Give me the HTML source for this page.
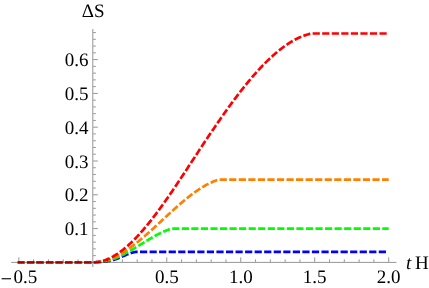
<!DOCTYPE html>
<html><head><meta charset="utf-8"><title>Plot</title>
<style>
html,body{margin:0;padding:0;background:#fff;}
body{width:429px;height:288px;overflow:hidden;}
svg{display:block;will-change:transform;}
text{font-family:"Liberation Serif",serif;font-size:19px;fill:#000;text-rendering:geometricPrecision;}
</style></head><body>
<svg width="429" height="288" viewBox="0 0 429 288">
<rect width="429" height="288" fill="#ffffff"/>
<path d="M17.80,262.40 L92.85,262.40 L92.85,262.40 L93.35,262.37 L93.85,262.33 L94.35,262.30 L94.85,262.27 L95.35,262.24 L95.85,262.21 L96.35,262.18 L96.85,262.15 L97.35,262.12 L97.85,262.09 L98.35,262.05 L98.85,262.02 L99.35,261.99 L99.85,261.95 L100.35,261.91 L100.85,261.88 L101.35,261.84 L101.85,261.79 L102.35,261.75 L102.85,261.70 L103.35,261.66 L103.85,261.61 L104.35,261.55 L104.85,261.50 L105.35,261.44 L105.85,261.37 L106.35,261.31 L106.85,261.24 L107.35,261.16 L107.85,261.09 L108.35,261.00 L108.85,260.92 L109.35,260.83 L109.85,260.73 L110.35,260.63 L110.85,260.53 L111.35,260.42 L111.85,260.30 L112.35,260.18 L112.85,260.06 L113.35,259.92 L113.85,259.79 L114.35,259.64 L114.85,259.49 L115.35,259.33 L115.85,259.17 L116.35,259.00 L116.85,258.82 L117.35,258.64 L117.85,258.45 L118.35,258.25 L118.85,258.05 L119.35,257.85 L119.85,257.64 L120.35,257.43 L120.85,257.21 L121.35,256.99 L121.85,256.77 L122.35,256.55 L122.85,256.33 L123.35,256.11 L123.85,255.89 L124.35,255.67 L124.85,255.45 L125.35,255.23 L125.85,255.01 L126.35,254.80 L126.85,254.59 L127.35,254.38 L127.85,254.18 L128.35,253.98 L128.85,253.79 L129.35,253.60 L129.85,253.42 L130.35,253.25 L130.85,253.08 L131.35,252.92 L131.85,252.77 L132.35,252.63 L132.85,252.50 L133.35,252.38 L133.85,252.27 L134.35,252.16 L134.85,252.07 L135.35,252.00 L135.85,251.93 L136.35,251.88 L136.85,251.84 L137.35,251.81 L137.85,251.80 L138.00,251.80 L388.20,251.80" fill="none" stroke="#0000ff" stroke-width="2.7" stroke-dasharray="7.2 2.35" stroke-dashoffset="0.3" stroke-linecap="butt" stroke-linejoin="round"/>
<path d="M17.80,262.40 L92.85,262.40 L92.85,262.40 L93.35,262.39 L93.85,262.38 L94.35,262.37 L94.85,262.35 L95.35,262.33 L95.85,262.31 L96.35,262.28 L96.85,262.25 L97.35,262.22 L97.85,262.18 L98.35,262.14 L98.85,262.09 L99.35,262.05 L99.85,261.99 L100.35,261.94 L100.85,261.88 L101.35,261.81 L101.85,261.74 L102.35,261.67 L102.85,261.60 L103.35,261.52 L103.85,261.43 L104.35,261.34 L104.85,261.25 L105.35,261.15 L105.85,261.05 L106.35,260.94 L106.85,260.83 L107.35,260.72 L107.85,260.60 L108.35,260.47 L108.85,260.34 L109.35,260.21 L109.85,260.07 L110.35,259.93 L110.85,259.78 L111.35,259.62 L111.85,259.47 L112.35,259.30 L112.85,259.13 L113.35,258.96 L113.85,258.78 L114.35,258.59 L114.85,258.40 L115.35,258.21 L115.85,258.01 L116.35,257.80 L116.85,257.59 L117.35,257.37 L117.85,257.15 L118.35,256.92 L118.85,256.69 L119.35,256.46 L119.85,256.22 L120.35,255.97 L120.85,255.73 L121.35,255.47 L121.85,255.22 L122.35,254.96 L122.85,254.70 L123.35,254.44 L123.85,254.18 L124.35,253.91 L124.85,253.64 L125.35,253.37 L125.85,253.10 L126.35,252.83 L126.85,252.56 L127.35,252.28 L127.85,252.00 L128.35,251.72 L128.85,251.44 L129.35,251.16 L129.85,250.88 L130.35,250.59 L130.85,250.31 L131.35,250.02 L131.85,249.73 L132.35,249.45 L132.85,249.16 L133.35,248.87 L133.85,248.58 L134.35,248.28 L134.85,247.99 L135.35,247.70 L135.85,247.40 L136.35,247.11 L136.85,246.81 L137.35,246.52 L137.85,246.22 L138.35,245.92 L138.85,245.62 L139.35,245.32 L139.85,245.02 L140.35,244.71 L140.85,244.41 L141.35,244.11 L141.85,243.80 L142.35,243.49 L142.85,243.19 L143.35,242.88 L143.85,242.57 L144.35,242.26 L144.85,241.95 L145.35,241.64 L145.85,241.34 L146.35,241.03 L146.85,240.72 L147.35,240.41 L147.85,240.11 L148.35,239.80 L148.85,239.50 L149.35,239.20 L149.85,238.90 L150.35,238.60 L150.85,238.30 L151.35,238.01 L151.85,237.72 L152.35,237.43 L152.85,237.14 L153.35,236.85 L153.85,236.57 L154.35,236.29 L154.85,236.01 L155.35,235.74 L155.85,235.46 L156.35,235.20 L156.85,234.93 L157.35,234.67 L157.85,234.41 L158.35,234.15 L158.85,233.90 L159.35,233.66 L159.85,233.41 L160.35,233.17 L160.85,232.93 L161.35,232.70 L161.85,232.47 L162.35,232.24 L162.85,232.02 L163.35,231.80 L163.85,231.58 L164.35,231.36 L164.85,231.15 L165.35,230.94 L165.85,230.74 L166.35,230.53 L166.85,230.33 L167.35,230.13 L167.85,229.94 L168.35,229.75 L168.85,229.56 L169.35,229.37 L169.85,229.19 L170.35,229.00 L170.85,228.82 L171.20,228.70 L388.70,228.70" fill="none" stroke="#00ff00" stroke-width="2.7" stroke-dasharray="7.2 2.35" stroke-dashoffset="0" stroke-linecap="butt" stroke-linejoin="round"/>
<path d="M17.80,262.40 L92.85,262.40 L92.85,262.40 L93.35,262.41 L93.85,262.42 L94.35,262.42 L94.85,262.41 L95.35,262.39 L95.85,262.37 L96.35,262.34 L96.85,262.31 L97.35,262.27 L97.85,262.22 L98.35,262.16 L98.85,262.10 L99.35,262.04 L99.85,261.96 L100.35,261.88 L100.85,261.80 L101.35,261.71 L101.85,261.61 L102.35,261.51 L102.85,261.40 L103.35,261.28 L103.85,261.16 L104.35,261.03 L104.85,260.90 L105.35,260.76 L105.85,260.62 L106.35,260.47 L106.85,260.31 L107.35,260.15 L107.85,259.98 L108.35,259.81 L108.85,259.63 L109.35,259.45 L109.85,259.26 L110.35,259.07 L110.85,258.87 L111.35,258.67 L111.85,258.46 L112.35,258.25 L112.85,258.03 L113.35,257.80 L113.85,257.58 L114.35,257.34 L114.85,257.10 L115.35,256.86 L115.85,256.61 L116.35,256.36 L116.85,256.11 L117.35,255.85 L117.85,255.58 L118.35,255.31 L118.85,255.04 L119.35,254.76 L119.85,254.47 L120.35,254.19 L120.85,253.90 L121.35,253.60 L121.85,253.30 L122.35,253.00 L122.85,252.69 L123.35,252.38 L123.85,252.06 L124.35,251.74 L124.85,251.42 L125.35,251.10 L125.85,250.77 L126.35,250.43 L126.85,250.09 L127.35,249.75 L127.85,249.41 L128.35,249.06 L128.85,248.71 L129.35,248.36 L129.85,248.00 L130.35,247.64 L130.85,247.27 L131.35,246.91 L131.85,246.53 L132.35,246.16 L132.85,245.78 L133.35,245.41 L133.85,245.02 L134.35,244.64 L134.85,244.25 L135.35,243.86 L135.85,243.47 L136.35,243.07 L136.85,242.67 L137.35,242.27 L137.85,241.87 L138.35,241.46 L138.85,241.05 L139.35,240.64 L139.85,240.23 L140.35,239.81 L140.85,239.40 L141.35,238.98 L141.85,238.56 L142.35,238.13 L142.85,237.71 L143.35,237.28 L143.85,236.85 L144.35,236.42 L144.85,235.99 L145.35,235.55 L145.85,235.11 L146.35,234.68 L146.85,234.24 L147.35,233.80 L147.85,233.35 L148.35,232.91 L148.85,232.46 L149.35,232.02 L149.85,231.57 L150.35,231.12 L150.85,230.67 L151.35,230.22 L151.85,229.76 L152.35,229.31 L152.85,228.86 L153.35,228.40 L153.85,227.94 L154.35,227.49 L154.85,227.03 L155.35,226.57 L155.85,226.11 L156.35,225.65 L156.85,225.19 L157.35,224.73 L157.85,224.26 L158.35,223.80 L158.85,223.34 L159.35,222.88 L159.85,222.41 L160.35,221.95 L160.85,221.48 L161.35,221.02 L161.85,220.56 L162.35,220.09 L162.85,219.63 L163.35,219.16 L163.85,218.70 L164.35,218.24 L164.85,217.77 L165.35,217.31 L165.85,216.85 L166.35,216.38 L166.85,215.92 L167.35,215.46 L167.85,215.00 L168.35,214.54 L168.85,214.08 L169.35,213.62 L169.85,213.16 L170.35,212.70 L170.85,212.24 L171.35,211.79 L171.85,211.33 L172.35,210.87 L172.85,210.42 L173.35,209.97 L173.85,209.52 L174.35,209.07 L174.85,208.62 L175.35,208.17 L175.85,207.72 L176.35,207.28 L176.85,206.83 L177.35,206.39 L177.85,205.95 L178.35,205.51 L178.85,205.07 L179.35,204.64 L179.85,204.20 L180.35,203.77 L180.85,203.34 L181.35,202.91 L181.85,202.48 L182.35,202.06 L182.85,201.63 L183.35,201.21 L183.85,200.79 L184.35,200.38 L184.85,199.96 L185.35,199.55 L185.85,199.14 L186.35,198.73 L186.85,198.33 L187.35,197.92 L187.85,197.52 L188.35,197.12 L188.85,196.73 L189.35,196.34 L189.85,195.95 L190.35,195.56 L190.85,195.17 L191.35,194.79 L191.85,194.41 L192.35,194.04 L192.85,193.66 L193.35,193.29 L193.85,192.93 L194.35,192.56 L194.85,192.20 L195.35,191.84 L195.85,191.49 L196.35,191.14 L196.85,190.79 L197.35,190.45 L197.85,190.11 L198.35,189.77 L198.85,189.44 L199.35,189.11 L199.85,188.78 L200.35,188.46 L200.85,188.14 L201.35,187.83 L201.85,187.52 L202.35,187.21 L202.85,186.91 L203.35,186.61 L203.85,186.31 L204.35,186.02 L204.85,185.74 L205.35,185.45 L205.85,185.18 L206.35,184.90 L206.85,184.63 L207.35,184.37 L207.85,184.11 L208.35,183.85 L208.85,183.60 L209.35,183.36 L209.85,183.11 L210.35,182.88 L210.85,182.64 L211.35,182.42 L211.85,182.19 L212.35,181.98 L212.85,181.76 L213.35,181.56 L213.85,181.35 L214.35,181.16 L214.85,180.96 L215.35,180.78 L215.85,180.59 L216.35,180.42 L216.85,180.25 L217.35,180.08 L217.85,179.92 L218.35,179.77 L218.85,179.62 L218.90,179.60 L388.70,179.60" fill="none" stroke="#ff8000" stroke-width="2.7" stroke-dasharray="7.2 2.35" stroke-dashoffset="0" stroke-linecap="butt" stroke-linejoin="round"/>
<path d="M17.80,262.40 L92.85,262.40 L92.85,262.41 L93.35,262.40 L93.85,262.39 L94.35,262.37 L94.85,262.34 L95.35,262.31 L95.85,262.26 L96.35,262.21 L96.85,262.15 L97.35,262.09 L97.85,262.01 L98.35,261.93 L98.85,261.85 L99.35,261.75 L99.85,261.65 L100.35,261.54 L100.85,261.42 L101.35,261.30 L101.85,261.17 L102.35,261.03 L102.85,260.89 L103.35,260.74 L103.85,260.58 L104.35,260.42 L104.85,260.24 L105.35,260.07 L105.85,259.88 L106.35,259.69 L106.85,259.49 L107.35,259.28 L107.85,259.07 L108.35,258.85 L108.85,258.63 L109.35,258.40 L109.85,258.16 L110.35,257.92 L110.85,257.67 L111.35,257.41 L111.85,257.15 L112.35,256.88 L112.85,256.60 L113.35,256.32 L113.85,256.03 L114.35,255.74 L114.85,255.44 L115.35,255.13 L115.85,254.82 L116.35,254.50 L116.85,254.18 L117.35,253.85 L117.85,253.52 L118.35,253.18 L118.85,252.83 L119.35,252.48 L119.85,252.12 L120.35,251.76 L120.85,251.39 L121.35,251.01 L121.85,250.63 L122.35,250.25 L122.85,249.86 L123.35,249.46 L123.85,249.06 L124.35,248.65 L124.85,248.24 L125.35,247.82 L125.85,247.40 L126.35,246.97 L126.85,246.54 L127.35,246.10 L127.85,245.66 L128.35,245.21 L128.85,244.76 L129.35,244.30 L129.85,243.84 L130.35,243.37 L130.85,242.90 L131.35,242.42 L131.85,241.94 L132.35,241.46 L132.85,240.97 L133.35,240.47 L133.85,239.97 L134.35,239.47 L134.85,238.96 L135.35,238.44 L135.85,237.93 L136.35,237.40 L136.85,236.88 L137.35,236.35 L137.85,235.81 L138.35,235.27 L138.85,234.73 L139.35,234.18 L139.85,233.63 L140.35,233.08 L140.85,232.52 L141.35,231.95 L141.85,231.39 L142.35,230.81 L142.85,230.24 L143.35,229.66 L143.85,229.08 L144.35,228.49 L144.85,227.90 L145.35,227.31 L145.85,226.71 L146.35,226.11 L146.85,225.51 L147.35,224.90 L147.85,224.29 L148.35,223.67 L148.85,223.05 L149.35,222.43 L149.85,221.81 L150.35,221.18 L150.85,220.55 L151.35,219.91 L151.85,219.28 L152.35,218.63 L152.85,217.99 L153.35,217.34 L153.85,216.69 L154.35,216.04 L154.85,215.39 L155.35,214.73 L155.85,214.07 L156.35,213.40 L156.85,212.73 L157.35,212.07 L157.85,211.39 L158.35,210.72 L158.85,210.04 L159.35,209.36 L159.85,208.68 L160.35,207.99 L160.85,207.30 L161.35,206.61 L161.85,205.92 L162.35,205.23 L162.85,204.53 L163.35,203.83 L163.85,203.13 L164.35,202.43 L164.85,201.72 L165.35,201.01 L165.85,200.30 L166.35,199.59 L166.85,198.88 L167.35,198.16 L167.85,197.44 L168.35,196.72 L168.85,196.00 L169.35,195.28 L169.85,194.55 L170.35,193.83 L170.85,193.10 L171.35,192.37 L171.85,191.64 L172.35,190.91 L172.85,190.17 L173.35,189.43 L173.85,188.70 L174.35,187.96 L174.85,187.22 L175.35,186.48 L175.85,185.73 L176.35,184.99 L176.85,184.24 L177.35,183.50 L177.85,182.75 L178.35,182.00 L178.85,181.25 L179.35,180.50 L179.85,179.75 L180.35,179.00 L180.85,178.24 L181.35,177.49 L181.85,176.73 L182.35,175.98 L182.85,175.22 L183.35,174.46 L183.85,173.71 L184.35,172.95 L184.85,172.19 L185.35,171.43 L185.85,170.67 L186.35,169.91 L186.85,169.15 L187.35,168.39 L187.85,167.62 L188.35,166.86 L188.85,166.10 L189.35,165.34 L189.85,164.57 L190.35,163.81 L190.85,163.05 L191.35,162.29 L191.85,161.52 L192.35,160.76 L192.85,160.00 L193.35,159.23 L193.85,158.47 L194.35,157.71 L194.85,156.95 L195.35,156.18 L195.85,155.42 L196.35,154.66 L196.85,153.90 L197.35,153.14 L197.85,152.38 L198.35,151.62 L198.85,150.86 L199.35,150.10 L199.85,149.34 L200.35,148.58 L200.85,147.83 L201.35,147.07 L201.85,146.31 L202.35,145.56 L202.85,144.80 L203.35,144.05 L203.85,143.30 L204.35,142.54 L204.85,141.79 L205.35,141.04 L205.85,140.29 L206.35,139.54 L206.85,138.79 L207.35,138.05 L207.85,137.30 L208.35,136.55 L208.85,135.81 L209.35,135.06 L209.85,134.32 L210.35,133.58 L210.85,132.84 L211.35,132.10 L211.85,131.36 L212.35,130.62 L212.85,129.89 L213.35,129.15 L213.85,128.42 L214.35,127.68 L214.85,126.95 L215.35,126.22 L215.85,125.49 L216.35,124.76 L216.85,124.03 L217.35,123.31 L217.85,122.58 L218.35,121.86 L218.85,121.14 L219.35,120.42 L219.85,119.70 L220.35,118.98 L220.85,118.27 L221.35,117.55 L221.85,116.84 L222.35,116.13 L222.85,115.42 L223.35,114.71 L223.85,114.00 L224.35,113.30 L224.85,112.59 L225.35,111.89 L225.85,111.19 L226.35,110.49 L226.85,109.79 L227.35,109.10 L227.85,108.40 L228.35,107.71 L228.85,107.02 L229.35,106.33 L229.85,105.65 L230.35,104.96 L230.85,104.28 L231.35,103.60 L231.85,102.92 L232.35,102.24 L232.85,101.57 L233.35,100.89 L233.85,100.22 L234.35,99.55 L234.85,98.88 L235.35,98.22 L235.85,97.56 L236.35,96.89 L236.85,96.24 L237.35,95.58 L237.85,94.92 L238.35,94.27 L238.85,93.62 L239.35,92.97 L239.85,92.33 L240.35,91.68 L240.85,91.04 L241.35,90.40 L241.85,89.77 L242.35,89.13 L242.85,88.50 L243.35,87.87 L243.85,87.24 L244.35,86.62 L244.85,86.00 L245.35,85.38 L245.85,84.76 L246.35,84.15 L246.85,83.53 L247.35,82.92 L247.85,82.32 L248.35,81.71 L248.85,81.11 L249.35,80.51 L249.85,79.92 L250.35,79.32 L250.85,78.73 L251.35,78.14 L251.85,77.56 L252.35,76.97 L252.85,76.39 L253.35,75.82 L253.85,75.24 L254.35,74.67 L254.85,74.10 L255.35,73.54 L255.85,72.97 L256.35,72.41 L256.85,71.86 L257.35,71.30 L257.85,70.75 L258.35,70.20 L258.85,69.66 L259.35,69.12 L259.85,68.58 L260.35,68.04 L260.85,67.51 L261.35,66.98 L261.85,66.45 L262.35,65.93 L262.85,65.41 L263.35,64.89 L263.85,64.38 L264.35,63.87 L264.85,63.36 L265.35,62.86 L265.85,62.36 L266.35,61.86 L266.85,61.37 L267.35,60.88 L267.85,60.39 L268.35,59.91 L268.85,59.43 L269.35,58.95 L269.85,58.48 L270.35,58.01 L270.85,57.55 L271.35,57.08 L271.85,56.63 L272.35,56.17 L272.85,55.72 L273.35,55.27 L273.85,54.83 L274.35,54.39 L274.85,53.95 L275.35,53.52 L275.85,53.09 L276.35,52.67 L276.85,52.25 L277.35,51.83 L277.85,51.41 L278.35,51.00 L278.85,50.60 L279.35,50.20 L279.85,49.80 L280.35,49.40 L280.85,49.01 L281.35,48.63 L281.85,48.25 L282.35,47.87 L282.85,47.49 L283.35,47.12 L283.85,46.76 L284.35,46.40 L284.85,46.04 L285.35,45.69 L285.85,45.34 L286.35,44.99 L286.85,44.65 L287.35,44.31 L287.85,43.98 L288.35,43.65 L288.85,43.33 L289.35,43.01 L289.85,42.70 L290.35,42.39 L290.85,42.08 L291.35,41.78 L291.85,41.48 L292.35,41.19 L292.85,40.90 L293.35,40.62 L293.85,40.34 L294.35,40.06 L294.85,39.79 L295.35,39.53 L295.85,39.27 L296.35,39.01 L296.85,38.76 L297.35,38.51 L297.85,38.27 L298.35,38.03 L298.85,37.80 L299.35,37.57 L299.85,37.35 L300.35,37.13 L300.85,36.91 L301.35,36.70 L301.85,36.50 L302.35,36.30 L302.85,36.11 L303.35,35.92 L303.85,35.73 L304.35,35.55 L304.85,35.38 L305.35,35.21 L305.85,35.05 L306.35,34.89 L306.85,34.73 L307.35,34.58 L307.85,34.44 L308.35,34.30 L308.85,34.17 L309.35,34.04 L309.85,33.91 L310.35,33.80 L310.85,33.68 L311.35,33.58 L311.70,33.50 L388.70,33.50" fill="none" stroke="#ff0000" stroke-width="2.7" stroke-dasharray="7.2 2.35" stroke-dashoffset="0.6" stroke-linecap="butt" stroke-linejoin="round"/>
<g stroke="#000000" stroke-width="1" stroke-opacity="0.42" fill="none">
<line x1="11.2" y1="262.4" x2="396.4" y2="262.4"/>
<line x1="92.8" y1="29" x2="92.8" y2="267"/>
<line x1="18.83" y1="261.9" x2="18.83" y2="257.40"/>
<line x1="33.62" y1="261.9" x2="33.62" y2="259.40"/>
<line x1="48.41" y1="261.9" x2="48.41" y2="259.40"/>
<line x1="63.21" y1="261.9" x2="63.21" y2="259.40"/>
<line x1="78.00" y1="261.9" x2="78.00" y2="259.40"/>
<line x1="107.59" y1="261.9" x2="107.59" y2="259.40"/>
<line x1="122.39" y1="261.9" x2="122.39" y2="259.40"/>
<line x1="137.19" y1="261.9" x2="137.19" y2="259.40"/>
<line x1="151.98" y1="261.9" x2="151.98" y2="259.40"/>
<line x1="166.77" y1="261.9" x2="166.77" y2="257.40"/>
<line x1="181.57" y1="261.9" x2="181.57" y2="259.40"/>
<line x1="196.36" y1="261.9" x2="196.36" y2="259.40"/>
<line x1="211.16" y1="261.9" x2="211.16" y2="259.40"/>
<line x1="225.95" y1="261.9" x2="225.95" y2="259.40"/>
<line x1="240.75" y1="261.9" x2="240.75" y2="257.40"/>
<line x1="255.55" y1="261.9" x2="255.55" y2="259.40"/>
<line x1="270.34" y1="261.9" x2="270.34" y2="259.40"/>
<line x1="285.13" y1="261.9" x2="285.13" y2="259.40"/>
<line x1="299.93" y1="261.9" x2="299.93" y2="259.40"/>
<line x1="314.72" y1="261.9" x2="314.72" y2="257.40"/>
<line x1="329.52" y1="261.9" x2="329.52" y2="259.40"/>
<line x1="344.31" y1="261.9" x2="344.31" y2="259.40"/>
<line x1="359.11" y1="261.9" x2="359.11" y2="259.40"/>
<line x1="373.90" y1="261.9" x2="373.90" y2="259.40"/>
<line x1="388.70" y1="261.9" x2="388.70" y2="257.40"/>
<line x1="93.3" y1="255.64" x2="95.80" y2="255.64"/>
<line x1="93.3" y1="248.88" x2="95.80" y2="248.88"/>
<line x1="93.3" y1="242.12" x2="95.80" y2="242.12"/>
<line x1="93.3" y1="235.36" x2="95.80" y2="235.36"/>
<line x1="93.3" y1="228.60" x2="97.80" y2="228.60"/>
<line x1="93.3" y1="221.84" x2="95.80" y2="221.84"/>
<line x1="93.3" y1="215.08" x2="95.80" y2="215.08"/>
<line x1="93.3" y1="208.32" x2="95.80" y2="208.32"/>
<line x1="93.3" y1="201.56" x2="95.80" y2="201.56"/>
<line x1="93.3" y1="194.80" x2="97.80" y2="194.80"/>
<line x1="93.3" y1="188.04" x2="95.80" y2="188.04"/>
<line x1="93.3" y1="181.28" x2="95.80" y2="181.28"/>
<line x1="93.3" y1="174.52" x2="95.80" y2="174.52"/>
<line x1="93.3" y1="167.76" x2="95.80" y2="167.76"/>
<line x1="93.3" y1="161.00" x2="97.80" y2="161.00"/>
<line x1="93.3" y1="154.24" x2="95.80" y2="154.24"/>
<line x1="93.3" y1="147.48" x2="95.80" y2="147.48"/>
<line x1="93.3" y1="140.72" x2="95.80" y2="140.72"/>
<line x1="93.3" y1="133.96" x2="95.80" y2="133.96"/>
<line x1="93.3" y1="127.20" x2="97.80" y2="127.20"/>
<line x1="93.3" y1="120.44" x2="95.80" y2="120.44"/>
<line x1="93.3" y1="113.68" x2="95.80" y2="113.68"/>
<line x1="93.3" y1="106.92" x2="95.80" y2="106.92"/>
<line x1="93.3" y1="100.16" x2="95.80" y2="100.16"/>
<line x1="93.3" y1="93.40" x2="97.80" y2="93.40"/>
<line x1="93.3" y1="86.64" x2="95.80" y2="86.64"/>
<line x1="93.3" y1="79.88" x2="95.80" y2="79.88"/>
<line x1="93.3" y1="73.12" x2="95.80" y2="73.12"/>
<line x1="93.3" y1="66.36" x2="95.80" y2="66.36"/>
<line x1="93.3" y1="59.60" x2="97.80" y2="59.60"/>
<line x1="93.3" y1="52.84" x2="95.80" y2="52.84"/>
<line x1="93.3" y1="46.08" x2="95.80" y2="46.08"/>
<line x1="93.3" y1="39.32" x2="95.80" y2="39.32"/>
<line x1="93.3" y1="32.56" x2="95.80" y2="32.56"/>
</g>
<rect x="1.6" y="278.2" width="9.4" height="1.1" fill="#000"/>
<text x="13.5" y="283.2">0.5</text>
<text x="166.77" y="283.2" text-anchor="middle">0.5</text>
<text x="240.75" y="283.2" text-anchor="middle">1.0</text>
<text x="314.72" y="283.2" text-anchor="middle">1.5</text>
<text x="388.70" y="283.2" text-anchor="middle">2.0</text>
<text x="88.6" y="235.20" text-anchor="end">0.1</text>
<text x="88.6" y="201.40" text-anchor="end">0.2</text>
<text x="88.6" y="167.60" text-anchor="end">0.3</text>
<text x="88.6" y="133.80" text-anchor="end">0.4</text>
<text x="88.6" y="100.00" text-anchor="end">0.5</text>
<text x="88.6" y="66.20" text-anchor="end">0.6</text>
<text x="81.7" y="16.8">ΔS</text>
<text x="406" y="269.1" font-style="italic">t</text>
<text x="414.9" y="269.1">H</text>
</svg>
</body></html>
